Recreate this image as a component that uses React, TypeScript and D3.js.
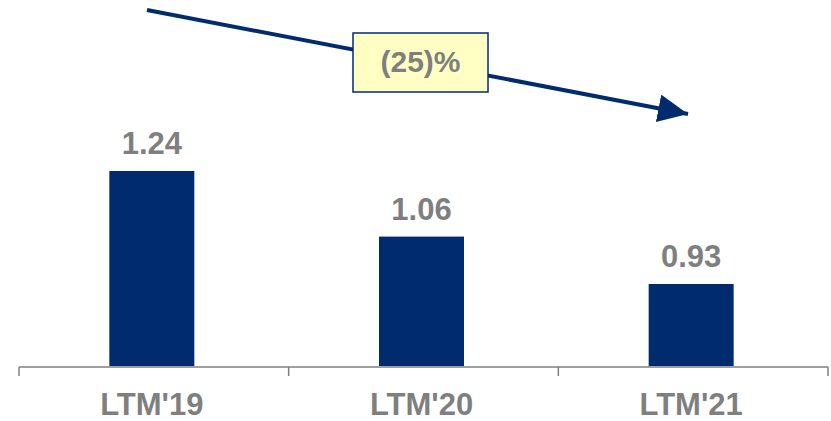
import React from "react";
import * as d3 from "d3";

const categories = ["LTM'19", "LTM'20", "LTM'21"];
const values = [1.24, 1.06, 0.93];
const changeLabel = "(25)%";

const W = 831;
const H = 421;
const NAVY = "#002b6f";
const GRAY = "#7f7f7f";
const FONT = "'Liberation Sans', Arial, sans-serif";

export default function App() {
  const x = d3.scaleBand<string>().domain(categories).range([19, 828]).paddingInner(0).paddingOuter(0);
  const y = d3.scaleLinear().domain([0.705, 1.24]).range([366, 171]);
  const barW = 85;
  const ticks = [19, ...categories.map((c) => (x(c) as number) + x.bandwidth())];

  return (
    <svg width={W} height={H} style={{ position: "absolute", left: 0, top: 0, background: "#fff" }}>
      <defs>
        <marker id="ah" markerUnits="userSpaceOnUse" markerWidth="34" markerHeight="32" refX="30" refY="14" orient="auto">
          <path d="M0,0 L30,14 L0,28 Z" fill={NAVY} />
        </marker>
      </defs>
      {categories.map((c, i) => {
        const cx = (x(c) as number) + x.bandwidth() / 2 - 2;
        const top = y(values[i]);
        return (
          <g key={c}>
            <rect x={cx - barW / 2} y={top} width={barW} height={y.range()[0] - top} fill={NAVY} />
            <text x={cx} y={top - 17} textAnchor="middle" fontFamily={FONT} fontWeight="bold" fontSize={31} fill={GRAY}>
              {values[i].toFixed(2)}
            </text>
            <text x={cx} y={415} textAnchor="middle" fontFamily={FONT} fontWeight="bold" fontSize={31} fill={GRAY}>
              {c}
            </text>
          </g>
        );
      })}
      <line x1={19} x2={828} y1={367} y2={367} stroke={GRAY} strokeWidth={1.5} />
      {ticks.map((t, i) => (
        <line key={i} x1={t} x2={t} y1={367} y2={376} stroke={GRAY} strokeWidth={1.5} />
      ))}
      <line x1={147} y1={10} x2={688} y2={114} stroke={NAVY} strokeWidth={4} markerEnd="url(#ah)" />
      <rect x={353} y={33} width={135} height={59} fill="#ffffc4" stroke={NAVY} strokeWidth={1.5} />
      <text x={420.5} y={72} textAnchor="middle" fontFamily={FONT} fontWeight="bold" fontSize={30} fill={GRAY}>
        {changeLabel}
      </text>
    </svg>
  );
}
